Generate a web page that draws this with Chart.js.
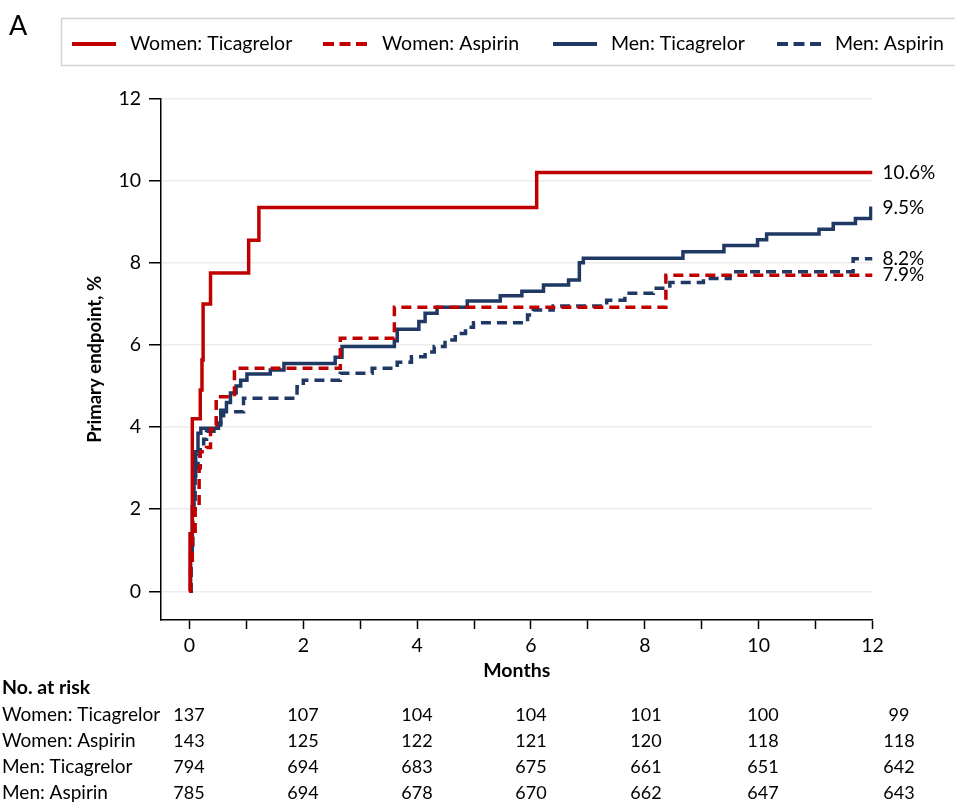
<!DOCTYPE html>
<html>
<head>
<meta charset="utf-8">
<script src="https://cdn.jsdelivr.net/npm/chart.js@4.4.0/dist/chart.umd.min.js"></script>
<style>
  html, body { margin: 0; padding: 0; background: #fff; }
  #wrap { position: relative; width: 955px; height: 803px; }
</style>
</head>
<body>
<div id="wrap"><canvas id="chart" width="955" height="803"></canvas></div>
<script>
// Kaplan-Meier step points (month, cumulative %)
const womenTicaMonths = [0, 0.01, 0.05, 0.19, 0.22, 0.24, 0.37, 1.04, 1.22, 6.10, 12];
const womenTicaPct    = [0, 1.4, 4.2, 4.9, 5.63, 7.0, 7.75, 8.55, 9.35, 10.2, 10.2];

const womenAspMonths = [0, 0.02, 0.05, 0.1, 0.17, 0.19, 0.3, 0.37, 0.4, 0.47, 0.79, 2.65, 3.6, 8.37, 12];
const womenAspPct    = [0, 0.7, 1.4, 2.06, 3.0, 3.4, 3.5, 3.95, 4.05, 4.74, 5.43, 6.16, 6.92, 7.7, 7.7];

const menTicaMonths = [0, 0.02, 0.05, 0.08, 0.11, 0.15, 0.2, 0.51, 0.55, 0.65, 0.72, 0.82, 0.9, 1.01, 1.42, 1.66,
  2.56, 2.68, 3.6, 3.65, 4.03, 4.14, 4.35, 4.88, 5.46, 5.84, 6.22, 6.66, 6.85, 6.92, 8.67, 9.39, 9.98, 10.14,
  11.06, 11.31, 11.70, 11.97, 12];
const menTicaPct = [0, 1.0, 2.06, 2.8, 3.4, 3.85, 3.97, 4.1, 4.41, 4.6, 4.83, 5.0, 5.14, 5.29, 5.39, 5.55,
  5.7, 5.96, 6.10, 6.38, 6.57, 6.77, 6.92, 7.07, 7.20, 7.31, 7.46, 7.58, 8.0, 8.11, 8.27, 8.42, 8.56, 8.70,
  8.82, 8.96, 9.08, 9.33, 9.33];

const menAspMonths = [0, 0.03, 0.06, 0.1, 0.15, 0.19, 0.25, 0.3, 0.43, 0.55, 0.6, 0.95, 1.89, 2.0, 2.65, 3.21,
  3.65, 3.9, 4.14, 4.3, 4.49, 4.67, 4.85, 4.99, 5.94, 6.04, 6.39, 7.33, 7.65, 8.15, 8.44, 9.03, 9.5, 11.66, 12];
const menAspPct = [0, 1.0, 2.0, 3.0, 3.3, 3.5, 3.7, 3.9, 4.05, 4.2, 4.37, 4.7, 4.98, 5.14, 5.31, 5.43,
  5.58, 5.71, 5.83, 5.96, 6.12, 6.28, 6.43, 6.54, 6.73, 6.85, 6.95, 7.09, 7.26, 7.38, 7.52, 7.62, 7.78, 8.1, 8.1];

const seriesNames = ['Women: Ticagrelor', 'Women: Aspirin', 'Men: Ticagrelor', 'Men: Aspirin'];
const endLabels = ['10.6%', '7.9%', '9.5%', '8.2%'];

const xTickValues = [0, 1, 2, 3, 4, 5, 6, 7, 8, 9, 10, 11, 12];
const yTickValues = [0, 2, 4, 6, 8, 10, 12];

// Numbers at risk, at months 0, 2, 4, ..., 12
const riskWomenTica = [137, 107, 104, 104, 101, 100, 99];
const riskWomenAsp  = [143, 125, 122, 121, 120, 118, 118];
const riskMenTica   = [794, 694, 683, 675, 661, 651, 642];
const riskMenAsp    = [785, 694, 678, 670, 662, 647, 643];

const RED = '#c00000';
const NAVY = '#1f3864';
const FONT = 'Lato, "Open Sans", sans-serif';

const toPoints = (xs, ys) => xs.map((m, i) => ({ x: m, y: ys[i] }));

const makeSet = (label, xs, ys, color, dashed) => ({
    label: label,
    data: toPoints(xs, ys),
    borderColor: color,
    backgroundColor: color,
    borderWidth: 3.5,
    borderDash: dashed ? [10, 6] : [],
    stepped: true,
    pointRadius: 0,
    fill: false
});

// Legend box, panel letter, end labels and the at-risk table
const extrasPlugin = {
    id: 'extras',
    afterDraw(chart) {
        const ctx = chart.ctx;
        const xs = chart.scales.x;
        const ys = chart.scales.y;
        ctx.save();

        // panel letter
        ctx.fillStyle = '#000';
        ctx.font = `27px ${FONT}`;
        ctx.textBaseline = 'middle';
        ctx.textAlign = 'left';
        ctx.fillText('A', 9, 26);

        // legend box
        ctx.strokeStyle = '#d4d4d4';
        ctx.lineWidth = 1.5;
        ctx.strokeRect(61.5, 18.5, 900, 47);
        const sampleX = [72, 323, 553, 777];
        const textX = [130, 382, 611, 835];
        chart.data.datasets.forEach((ds, i) => {
            ctx.strokeStyle = ds.borderColor;
            ctx.lineWidth = 4;
            ctx.setLineDash(ds.borderDash.length ? [11, 5.5] : []);
            ctx.beginPath();
            ctx.moveTo(sampleX[i], 44);
            ctx.lineTo(sampleX[i] + 44, 44);
            ctx.stroke();
            ctx.setLineDash([]);
            ctx.fillStyle = '#000';
            ctx.font = `19.5px ${FONT}`;
            ctx.fillText(ds.label, textX[i], 44);
        });

        // end-of-curve labels
        ctx.font = `19px ${FONT}`;
        chart.data.datasets.forEach((ds, i) => {
            const last = ds.data[ds.data.length - 1];
            ctx.fillText(endLabels[i], xs.right + 10, ys.getPixelForValue(last.y));
        });

        // number at risk table
        ctx.font = `bold 19.5px ${FONT}`;
        ctx.fillText('No. at risk', 2, 688);
        const rows = [riskWomenTica, riskWomenAsp, riskMenTica, riskMenAsp];
        const colX = [189, 303, 417, 531, 646, 763, 899];
        rows.forEach((row, r) => {
            const y = 715 + r * 26;
            ctx.font = `19px ${FONT}`;
            ctx.textAlign = 'left';
            ctx.fillText(seriesNames[r], 2, y);
            ctx.font = `18px ${FONT}`;
            ctx.textAlign = 'center';
            row.forEach((n, c) => ctx.fillText(String(n), colX[c], y));
        });
        ctx.restore();
    }
};

const chart = new Chart(document.getElementById('chart'), {
    type: 'line',
    data: {
        datasets: [
            makeSet(seriesNames[0], womenTicaMonths, womenTicaPct, RED, false),
            makeSet(seriesNames[1], womenAspMonths, womenAspPct, RED, true),
            makeSet(seriesNames[2], menTicaMonths, menTicaPct, NAVY, false),
            makeSet(seriesNames[3], menAspMonths, menAspPct, NAVY, true)
        ]
    },
    options: {
        responsive: false,
        animation: false,
        layout: { padding: { left: 80, right: 82.5, top: 98.6, bottom: 117 } },
        plugins: {
            legend: { display: false },
            tooltip: { enabled: false }
        },
        scales: {
            x: {
                type: 'linear',
                min: -0.5,
                max: 12,
                afterBuildTicks: (s) => { s.ticks = xTickValues.map(v => ({ value: v })); },
                afterFit: (s) => { s.height = 66; },
                grid: { drawOnChartArea: false, tickLength: 9, tickColor: '#000', tickWidth: 1.5 },
                border: { color: '#000', width: 1.5 },
                ticks: {
                    callback: (v) => (v % 2 === 0 ? String(v) : ''),
                    font: { family: FONT, size: 19.5 },
                    color: '#000',
                    padding: 5,
                    maxRotation: 0,
                    autoSkip: false
                },
                title: {
                    display: true,
                    text: 'Months',
                    font: { family: FONT, size: 19.5, weight: 'bold' },
                    color: '#000',
                    padding: { top: 0, bottom: 4 }
                }
            },
            y: {
                min: -0.7,
                max: 12,
                afterBuildTicks: (s) => { s.ticks = yTickValues.map(v => ({ value: v })); },
                afterFit: (s) => { s.width = 81; },
                grid: { color: '#ececec', lineWidth: 1.5, tickLength: 12, tickColor: '#000', tickWidth: 1.5 },
                border: { color: '#000', width: 1.5 },
                ticks: {
                    callback: (v) => String(v),
                    font: { family: FONT, size: 19.5 },
                    color: '#000',
                    padding: 8
                },
                title: {
                    display: true,
                    text: 'Primary endpoint, %',
                    font: { family: FONT, size: 18.5, weight: 'bold' },
                    color: '#000',
                    padding: { top: 4, bottom: 0 }
                }
            }
        }
    },
    plugins: [extrasPlugin]
});
</script>
</body>
</html>
